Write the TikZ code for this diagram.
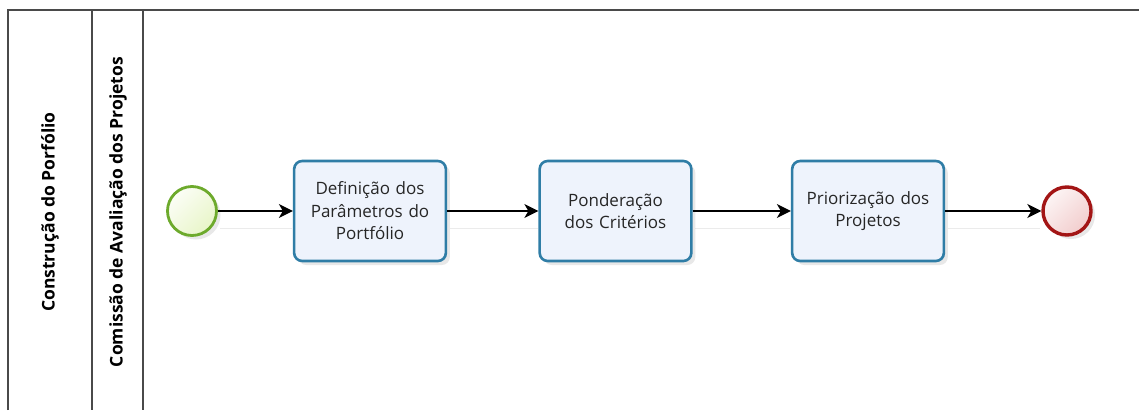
\documentclass[tikz,border=0pt]{standalone}
\usepackage{fontspec}
\setmainfont{Open Sans}
\usetikzlibrary{arrows.meta,shadows}
\definecolor{startc}{HTML}{6DAA2C}
\definecolor{startf}{HTML}{E8F5C8}
\definecolor{endc}{HTML}{A31515}
\definecolor{endf}{HTML}{F2CDCD}
\definecolor{taskc}{HTML}{2F7DA6}
\definecolor{taskf}{HTML}{EEF3FC}
\definecolor{framec}{HTML}{4A4A4A}
\tikzset{
  taskbox/.style={draw=taskc, line width=2.6pt, fill=taskf, rounded corners=8pt,
    minimum width=150pt, minimum height=100pt, align=center, text width=145pt,
    font=\fontsize{17pt}{22.5pt}\selectfont, text=black!85,
    drop shadow={shadow xshift=4pt, shadow yshift=-4pt, opacity=0.18}},
  startev/.style={circle, draw=startc, line width=2.8pt, top color=white!85!startf, bottom color=startf,
    shading angle=45, minimum size=49pt, inner sep=0pt,
    drop shadow={shadow xshift=4pt, shadow yshift=-4pt, opacity=0.18}},
  endev/.style={circle, draw=endc, line width=3.4pt, top color=white!80!endf, bottom color=endf,
    shading angle=45, minimum size=48pt, inner sep=0pt,
    drop shadow={shadow xshift=4pt, shadow yshift=-4pt, opacity=0.18}},
  flow/.style={-{Stealth[length=14pt,width=14pt,inset=4pt]}, line width=1.4pt, black},
  lanetext/.style={rotate=90, font=\bfseries\fontsize{17.5pt}{20pt}\selectfont, text=black},
  frame/.style={draw=framec, line width=1.3pt}
}
\begin{document}
\begin{tikzpicture}[x=1pt,y=-1pt]
\useasboundingbox (0,0) rectangle (1139,410);
\fill[white] (0,0) rectangle (1139,410);
% frame
\draw[frame] (8,410) -- (8,10) -- (1139,10);
\draw[frame] (92,10) -- (92,410);
\draw[frame] (143,10) -- (143,410);
\node[lanetext] (pool) at (50,212) {Construção do Porfólio};
\node[lanetext] (lane) at (118,212) {Comissão de Avaliação dos Projetos};
% shadow lines of flows
\foreach \a/\b in {220/292,450/538,695/790,948/1040}{
  \draw[black!8, line width=1pt] (\a,228) -- (\b,228);
}
\node[startev] (s) at (192,211) {};
\node[taskbox] (t1) at (370,211) {Definição dos\\Parâmetros do\\Portfólio};
\node[taskbox] (t2) at (615.5,211) {Ponderação\\dos Critérios};
\node[taskbox] (t3) at (868,211) {Priorização dos\\Projetos};
\node[endev] (e) at (1067,211) {};
\draw[flow] (s) -- (t1);
\draw[flow] (t1) -- (t2);
\draw[flow] (t2) -- (t3);
\draw[flow] (t3) -- (e);
\end{tikzpicture}
\end{document}
